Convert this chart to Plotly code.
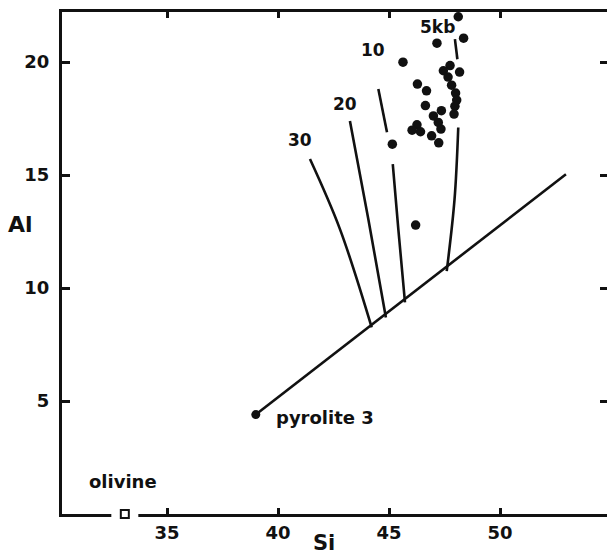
import plotly.graph_objects as go

# ---- data ----
sample_si = [48.12, 48.36, 47.16, 45.63, 47.75, 47.45, 48.18, 47.66, 46.28, 47.82,
             46.69, 48.00, 48.05, 46.64, 47.36, 47.97, 47.93, 47.00, 47.22, 46.26,
             46.04, 46.42, 47.34, 46.92, 47.24, 45.15, 46.20]
sample_al = [22.01, 21.06, 20.84, 20.00, 19.85, 19.62, 19.56, 19.34, 19.03, 18.98,
             18.73, 18.63, 18.32, 18.08, 17.85, 18.05, 17.70, 17.62, 17.33, 17.23,
             16.99, 16.92, 17.04, 16.74, 16.43, 16.37, 12.79]

iso30_si = [41.44, 42.79, 44.22]
iso30_al = [15.71, 12.61, 8.26]
iso20_si = [43.24, 44.07, 44.86]
iso20_al = [17.40, 13.05, 8.70]
iso10_si = [44.52, 44.91, None, 45.17, 45.42, 45.72]
iso10_al = [18.81, 16.90, None, 15.49, 12.61, 9.37]
iso5_si = [47.97, 48.08, None, 48.12, 47.95, 47.60]
iso5_al = [21.02, 20.13, None, 17.11, 13.90, 10.75]

isobar_labels = ["30", "20", "10", "5kb"]
isobar_label_si = [40.99, 43.04, 44.26, 47.18]
isobar_label_al = [16.55, 18.16, 20.53, 21.55]

pyrolite_line_si = [39.0, 52.97]
pyrolite_line_al = [4.4, 15.04]
pyrolite_si = [39.0]
pyrolite_al = [4.4]
olivine_si = [33.1]
olivine_al = [0.0]

x_ticks = [35, 40, 45, 50]
y_ticks = [5, 10, 15, 20]

FONT = "DejaVu Sans"
BLACK = "#111111"

fig = go.Figure()

for xs, ys in [(iso30_si, iso30_al), (iso20_si, iso20_al),
               (iso10_si, iso10_al), (iso5_si, iso5_al)]:
    fig.add_trace(go.Scatter(x=xs, y=ys, mode="lines",
                             line=dict(color=BLACK, width=2.6, shape="spline"),
                             connectgaps=False, hoverinfo="skip"))

fig.add_trace(go.Scatter(x=pyrolite_line_si, y=pyrolite_line_al, mode="lines",
                         line=dict(color=BLACK, width=2.6)))
fig.add_trace(go.Scatter(x=pyrolite_si, y=pyrolite_al, mode="markers",
                         marker=dict(color=BLACK, size=9)))
fig.add_trace(go.Scatter(x=sample_si, y=sample_al, mode="markers",
                         marker=dict(color=BLACK, size=9.5), cliponaxis=False))

# olivine: white gap in axis plus small open square
fig.add_trace(go.Scatter(x=olivine_si, y=olivine_al, mode="markers", cliponaxis=False,
                         marker=dict(symbol="square", size=27, color="white",
                                     line=dict(width=0))))
fig.add_trace(go.Scatter(x=olivine_si, y=olivine_al, mode="markers", cliponaxis=False,
                         marker=dict(symbol="square-open", size=8, color=BLACK,
                                     line=dict(color=BLACK, width=2))))

# dummy trace for the right-side tick axis
fig.add_trace(go.Scatter(x=[None], y=[None], yaxis="y2", showlegend=False))

lab_font = dict(family=FONT, size=17, color=BLACK, weight="bold")
for t, xs, ys in zip(isobar_labels, isobar_label_si, isobar_label_al):
    fig.add_annotation(x=xs, y=ys, text=t, showarrow=False, font=lab_font)

fig.add_annotation(x=olivine_si[0] - 0.06, y=1.46, text="olivine", showarrow=False,
                   font=dict(family=FONT, size=18, color=BLACK, weight="bold"))
fig.add_annotation(x=39.80, y=4.25, text="pyrolite 3", showarrow=False, xanchor="left",
                   font=dict(family=FONT, size=18, color=BLACK, weight="bold"))

fig.add_annotation(xref="paper", yref="paper", x=0.481, y=-0.058, text="Si",
                   showarrow=False, xanchor="center", yanchor="middle",
                   font=dict(family=FONT, size=21, color=BLACK, weight="bold"))
fig.add_annotation(xref="paper", yref="paper", x=-0.076, y=0.576, text="Al",
                   showarrow=False, xanchor="center", yanchor="middle",
                   font=dict(family=FONT, size=22, color=BLACK, weight="bold"))

tickfont = dict(family=FONT, size=18, color=BLACK, weight="bold")

fig.update_layout(
    width=607, height=559,
    margin=dict(l=62, r=0, t=12, b=45),
    paper_bgcolor="white", plot_bgcolor="white",
    showlegend=False,
    xaxis=dict(range=[30.27, 54.82], tickvals=x_ticks, ticks="inside", ticklen=6,
               tickwidth=2.5, tickcolor=BLACK, showline=True, linewidth=3,
               linecolor=BLACK, mirror="ticks", showgrid=False, zeroline=False,
               tickfont=tickfont, layer="below traces"),
    yaxis=dict(range=[0.0, 22.22], tickvals=y_ticks, ticks="inside", ticklen=8,
               tickwidth=2.5, tickcolor=BLACK, showline=True, linewidth=3,
               linecolor=BLACK, showgrid=False, zeroline=False, tickfont=tickfont,
               ticklabelstandoff=6, layer="below traces"),
    yaxis2=dict(range=[0.0, 22.22], overlaying="y", side="right", tickvals=y_ticks,
                ticks="inside", ticklen=7, tickwidth=2.5, tickcolor=BLACK,
                showline=False, showgrid=False, zeroline=False, showticklabels=False),
)

fig.write_html("out.html")
